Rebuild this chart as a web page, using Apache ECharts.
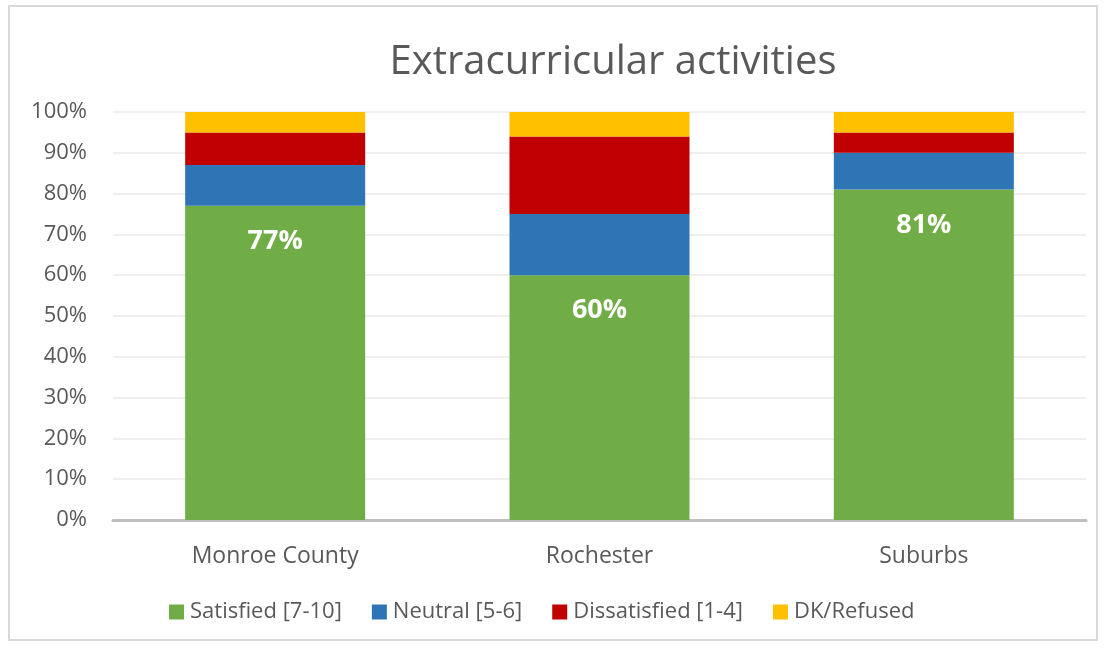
<!DOCTYPE html>
<html><head><meta charset="utf-8">
<script src="https://cdn.jsdelivr.net/npm/echarts@6/dist/echarts.min.js"></script>
<style>html,body{margin:0;padding:0;background:#fff}#c{width:1106px;height:649px}</style>
</head><body><div id="c"></div>
<script>
const categories = ['Monroe County', 'Rochester', 'Suburbs'];
const satisfied = [77, 60, 81];
const neutral = [10, 15, 9];
const dissatisfied = [8, 19, 5];
const dkRefused = [5, 6, 5];
const seriesNames = ['Satisfied [7-10]', 'Neutral [5-6]', 'Dissatisfied [1-4]', 'DK/Refused'];
const titleText = 'Extracurricular activities';
const colors = ['#70AD47', '#2E75B6', '#C00000', '#FFC000'];
const font = '"Open Sans", "Liberation Sans", sans-serif';

const chart = echarts.init(document.getElementById('c'));
const mk = (name, data, color, label) => ({
  name, type: 'bar', stack: 'a', data, barWidth: '55.5%',
  itemStyle: { color },
  label: label ? { show: true, position: 'insideTop', distance: 22, color: '#fff', fontWeight: 'bold', fontSize: 27, fontFamily: font, formatter: p => p.value + '%' } : { show: false }
});
chart.setOption({
  animation: false,
  graphic: [
    { type: 'rect', shape: { x: 9, y: 6, width: 1088, height: 634 }, style: { fill: 'none', stroke: '#d9d9d9', lineWidth: 2 }, z: -1 },
    { type: 'text', x: 613, y: 63, style: { text: titleText, textAlign: 'center', textVerticalAlign: 'middle', font: '40px ' + font, fill: '#595959' } }
  ],
  legend: { bottom: 21, left: 164, itemWidth: 15, itemHeight: 15, itemGap: 30, icon: 'rect',
    textStyle: { fontFamily: font, fontSize: 22, color: '#595959', padding: [0, 0, 0, 1] }, data: seriesNames },
  grid: { left: 113, right: 20, top: 112, bottom: 129 },
  xAxis: { type: 'category', data: categories,
    axisLine: { lineStyle: { color: '#bfbfbf', width: 3 } }, axisTick: { show: false },
    axisLabel: { fontFamily: font, fontSize: 23, color: '#595959', margin: 25 } },
  yAxis: { type: 'value', min: 0, max: 100, interval: 10,
    axisLabel: { fontFamily: font, fontSize: 22, color: '#595959', formatter: '{value}%', margin: 26 },
    splitLine: { lineStyle: { color: '#efefef', width: 2 } }, axisLine: { show: false }, axisTick: { show: false } },
  series: [
    mk(seriesNames[0], satisfied, colors[0], true),
    mk(seriesNames[1], neutral, colors[1]),
    mk(seriesNames[2], dissatisfied, colors[2]),
    mk(seriesNames[3], dkRefused, colors[3])
  ]
});
</script></body></html>
